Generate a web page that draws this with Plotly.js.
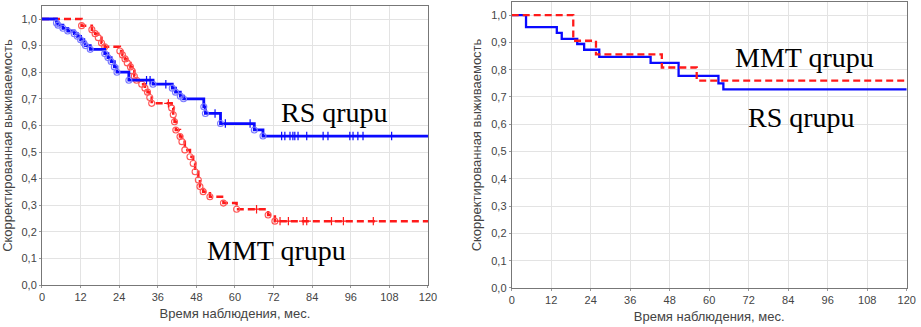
<!DOCTYPE html>
<html>
<head>
<meta charset="utf-8">
<script src="https://cdn.plot.ly/plotly-3.0.1.min.js"></script>
<style>html,body{margin:0;padding:0;background:#fff;}#chart{width:921px;height:327px;}</style>
</head>
<body>
<div id="chart"></div>
<script>
// ---- Left panel: Kaplan-Meier, RS group (blue) ----
var leftRsTime = [0, 4.5, 5, 6.5, 8, 10, 11, 12, 13, 13.5, 15, 19.5, 20.5, 21.5, 22.5, 23.3, 27, 34.5, 40.5, 41.5, 43, 44, 50.3, 50.8, 55.5, 66, 68.7, 120];
var leftRsSurv = [1.0, 0.985, 0.977, 0.965, 0.955, 0.945, 0.935, 0.922, 0.91, 0.9, 0.886, 0.87, 0.855, 0.84, 0.82, 0.80, 0.77, 0.755, 0.74, 0.725, 0.71, 0.70, 0.67, 0.645, 0.607, 0.583, 0.56, 0.56];
var leftRsCensor = [32.5, 33.6, 38.5, 53.8, 57, 64.7, 74.5, 75.5, 77.1, 78.0, 78.6, 79.6, 82.3, 87.4, 88.9, 95.7, 96.7, 98.2, 99.8, 108.7];

// ---- Left panel: MMT group (red) ----
var leftMmtTime = [0, 12.3, 15.5, 16.5, 17.5, 18.5, 19.5, 24.2, 25, 25.8, 26.5, 27.5, 28, 28.7, 29.4, 31, 32, 32.8, 33.5, 34.1, 40.3, 40.8, 41.2, 41.6, 42.9, 43.5, 44.4, 46, 47, 47.6, 48.6, 49.1, 50.1, 52.2, 56.4, 60.5, 70.3, 72.4, 120];
var leftMmtSurv = [1.0, 0.975, 0.96, 0.945, 0.93, 0.91, 0.896, 0.88, 0.865, 0.85, 0.835, 0.82, 0.805, 0.785, 0.77, 0.755, 0.74, 0.725, 0.705, 0.683, 0.665, 0.64, 0.614, 0.583, 0.558, 0.539, 0.508, 0.482, 0.457, 0.426, 0.395, 0.37, 0.351, 0.332, 0.308, 0.285, 0.263, 0.24, 0.24];
var leftMmtCensor = [39.3, 66.7, 74, 76.6, 81.2, 82.3, 90, 93.7, 103];

// ---- Right panel ----
var rightRsTime = [0, 4.35, 13.7, 15.2, 19.9, 22, 26.6, 42.2, 50.7, 62.8, 64.3, 120];
var rightRsSurv = [1.0, 0.956, 0.935, 0.913, 0.894, 0.873, 0.847, 0.825, 0.777, 0.75, 0.728, 0.728];
var rightMmtTime = [0, 18.7, 25.6, 45.6, 56.2, 120];
var rightMmtSurv = [1.0, 0.906, 0.856, 0.808, 0.76, 0.76];

// ---- Labels ----
var yTitle = "Скорректированная выживаемость";
var xTitle = "Время наблюдения, мес.";
var rsLabel = "RS qrupu";
var mmtLabel = "MMT qrupu";
var xTickVals = [0, 12, 24, 36, 48, 60, 72, 84, 96, 108, 120];
var yTickVals = [0, 0.1, 0.2, 0.3, 0.4, 0.5, 0.6, 0.7, 0.8, 0.9, 1.0];

var BLUE = "#0a0aff", RED = "#ff1a1a";

function survAt(times, surv, t) {
  var s = surv[0];
  for (var i = 0; i < times.length; i++) { if (times[i] <= t) s = surv[i]; }
  return s;
}
function stepTrace(t, s, color, dash, xa, ya, w) {
  return {x: t, y: s, type: "scatter", mode: "lines", line: {shape: "hv", color: color, width: w, dash: dash},
          xaxis: xa, yaxis: ya, hoverinfo: "skip", showlegend: false};
}
function eventTrace(t, s, color, xa, ya) {
  return {x: t.slice(1, -1), y: s.slice(1, -1), type: "scatter", mode: "markers",
          marker: {symbol: "circle-open", size: 6, color: color, line: {width: 1.1, color: color}},
          xaxis: xa, yaxis: ya, hoverinfo: "skip", showlegend: false};
}
function censorTrace(c, t, s, color, xa, ya) {
  return {x: c, y: c.map(function (v) { return survAt(t, s, v); }), type: "scatter", mode: "markers",
          marker: {symbol: "cross-thin-open", size: 6, color: color, line: {width: 1.2, color: color}},
          xaxis: xa, yaxis: ya, hoverinfo: "skip", showlegend: false};
}

var data = [
  stepTrace(leftMmtTime, leftMmtSurv, RED, "7px,4px", "x", "y", 2.5),
  eventTrace(leftMmtTime, leftMmtSurv, "#ff5555", "x", "y"),
  censorTrace(leftMmtCensor, leftMmtTime, leftMmtSurv, RED, "x", "y"),
  stepTrace(leftRsTime, leftRsSurv, BLUE, "solid", "x", "y", 2.8),
  eventTrace(leftRsTime, leftRsSurv, "#7a7aff", "x", "y"),
  censorTrace(leftRsCensor, leftRsTime, leftRsSurv, BLUE, "x", "y"),
  stepTrace(rightRsTime, rightRsSurv, BLUE, "solid", "x2", "y2", 2.3),
  stepTrace(rightMmtTime, rightMmtSurv, RED, "7px,4px", "x2", "y2", 2.3)
];

var tickFont = {family: "Liberation Sans, Arial, sans-serif", size: 11, color: "#444"};
var titleFont = {family: "Liberation Sans, Arial, sans-serif", size: 13, color: "#444"};
function xAxis(dom, anchor) {
  return {domain: dom, anchor: anchor, range: [0, 120], tickvals: xTickVals, showgrid: true, gridcolor: "#e3e3e3",
          zeroline: false, showline: true, linecolor: "#777", linewidth: 1, mirror: true, ticks: "outside", ticklen: 2,
          tickcolor: "#999", tickfont: tickFont, title: {text: xTitle, font: titleFont, standoff: 6}};
}
function yAxis(dom, anchor, top) {
  return {domain: dom, anchor: anchor, range: [0, top], tickvals: yTickVals, tickformat: ".1f", showgrid: true,
          gridcolor: "#e3e3e3", zeroline: false, showline: true, linecolor: "#777", linewidth: 1, mirror: true,
          ticks: "outside", ticklen: 2, tickcolor: "#999", tickfont: tickFont,
          title: {text: yTitle, font: titleFont, standoff: 6}};
}

var annFont = {family: "Liberation Serif, Times New Roman, serif", size: 28, color: "#000"};
var layout = {
  width: 921, height: 327, margin: {l: 0, r: 0, t: 0, b: 0},
  paper_bgcolor: "#fff", plot_bgcolor: "#fff", separators: ", ", showlegend: false,
  xaxis: xAxis([0.0456, 0.4647], "y"),
  yaxis: yAxis([0.1284, 0.9817], "x", 1.049),
  xaxis2: xAxis([0.5556, 0.9845], "y2"),
  yaxis2: yAxis([0.1193, 0.9939], "x2", 1.048),
  annotations: [
    {xref: "x", yref: "y", x: 91, y: 0.65, text: rsLabel, showarrow: false, font: annFont},
    {xref: "x", yref: "y", x: 73, y: 0.13, text: mmtLabel, showarrow: false, font: annFont},
    {xref: "x2", yref: "y2", x: 89, y: 0.846, text: mmtLabel, showarrow: false, font: annFont},
    {xref: "x2", yref: "y2", x: 88, y: 0.626, text: rsLabel, showarrow: false, font: annFont}
  ]
};
Plotly.newPlot("chart", data, layout, {staticPlot: true, displayModeBar: false});
</script>
</body>
</html>
